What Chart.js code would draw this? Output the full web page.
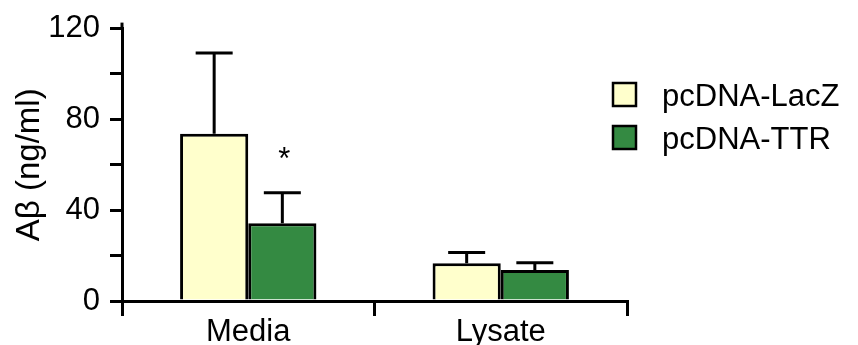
<!DOCTYPE html>
<html>
<head>
<meta charset="utf-8">
<script src="https://cdn.jsdelivr.net/npm/chart.js@4/dist/chart.umd.min.js"></script>
<style>
  html, body { margin: 0; padding: 0; background: #ffffff; }
  #wrap { width: 858px; height: 345px; }
</style>
</head>
<body>
<div id="wrap"><canvas id="c" width="858" height="345"></canvas></div>
<script>
// ---- data ----
const categories = ['Media', 'Lysate'];
const seriesNames = ['pcDNA-LacZ', 'pcDNA-TTR'];
const laczValues = [73.7, 16.6];
const laczErrors = [35.5, 4.8];
const ttrValues = [34.2, 13.7];
const ttrErrors = [13.5, 3.1];
const ttrMarks = ['*', ''];
const yTickValues = [0, 40, 80, 120];

const FONT = "'Liberation Sans', Arial, Helvetica, sans-serif";
const fills = ['#ffffcc', '#348a42'];

const errorBars = {
  id: 'errorBars',
  afterDatasetsDraw(chart) {
    const ctx = chart.ctx;
    const yScale = chart.scales.y;
    ctx.save();
    ctx.strokeStyle = '#000';
    ctx.lineWidth = 3;
    chart.data.datasets.forEach((ds, di) => {
      const meta = chart.getDatasetMeta(di);
      meta.data.forEach((bar, i) => {
        const top = yScale.getPixelForValue(ds.data[i] + ds.errors[i]);
        ctx.beginPath();
        ctx.moveTo(bar.x, bar.y);
        ctx.lineTo(bar.x, top);
        ctx.moveTo(bar.x - 18.5, top);
        ctx.lineTo(bar.x + 18.5, top);
        ctx.stroke();
        if (ds.marks && ds.marks[i]) {
          ctx.fillStyle = '#000';
          ctx.font = '31px ' + FONT;
          ctx.textAlign = 'center';
          ctx.textBaseline = 'alphabetic';
          ctx.fillText(ds.marks[i], bar.x + 2, top - 24);
        }
      });
    });
    ctx.restore();
  }
};

const extraAxes = {
  id: 'extraAxes',
  afterDraw(chart) {
    const ctx = chart.ctx;
    const a = chart.chartArea;
    ctx.save();
    ctx.strokeStyle = '#000';
    ctx.lineWidth = 3;
    ctx.beginPath();
    ctx.moveTo(a.left, a.top - 6);
    ctx.lineTo(a.left, a.top);
    ctx.stroke();
    // legend
    chart.data.datasets.forEach((ds, i) => {
      const y0 = 83 + i * 43;
      ctx.fillStyle = ds.backgroundColor;
      ctx.fillRect(613, y0, 23, 23);
      ctx.lineWidth = 2.5;
      ctx.strokeRect(613, y0, 23, 23);
      ctx.fillStyle = '#000';
      ctx.font = '31px ' + FONT;
      ctx.textAlign = 'left';
      ctx.textBaseline = 'middle';
      ctx.fillText(ds.label, 662, y0 + 14);
    });
    ctx.restore();
  }
};

new Chart(document.getElementById('c'), {
  type: 'bar',
  data: {
    labels: categories,
    datasets: [
      { label: seriesNames[0], data: laczValues, errors: laczErrors, backgroundColor: fills[0],
        borderColor: '#000', borderWidth: 3, categoryPercentage: 0.54, barPercentage: 1.0 },
      { label: seriesNames[1], data: ttrValues, errors: ttrErrors, marks: ttrMarks, backgroundColor: fills[1],
        borderColor: '#000', borderWidth: 3, categoryPercentage: 0.54, barPercentage: 1.0 }
    ]
  },
  options: {
    responsive: false,
    devicePixelRatio: 1,
    animation: false,
    layout: { padding: { left: 0, right: 231, top: 25, bottom: 0 } },
    plugins: { legend: { display: false }, tooltip: { enabled: false } },
    scales: {
      x: {
        afterFit(s) { s.height = 44; },
        grid: { display: true, offset: true, drawOnChartArea: false, drawTicks: true,
                tickLength: 15, color: '#000', lineWidth: 3 },
        border: { display: true, color: '#000', width: 3 },
        ticks: { color: '#000', font: { family: FONT, size: 31 }, padding: -2, maxRotation: 0 }
      },
      y: {
        min: 0, max: 120,
        afterFit(s) { s.width = 122; },
        grid: { display: true, drawOnChartArea: false, drawTicks: true,
                tickLength: 12, color: '#000', lineWidth: 3 },
        border: { display: true, color: '#000', width: 3 },
        ticks: {
          stepSize: 20, color: '#000', padding: 10,
          font: { family: FONT, size: 31 },
          callback: (v) => yTickValues.includes(v) ? String(v) : ''
        },
        title: { display: true, text: 'Aβ (ng/ml)', color: '#000',
                 font: { family: FONT, size: 33 }, padding: { top: 10, bottom: 0 } }
      }
    }
  },
  plugins: [errorBars, extraAxes]
});
</script>
</body>
</html>
